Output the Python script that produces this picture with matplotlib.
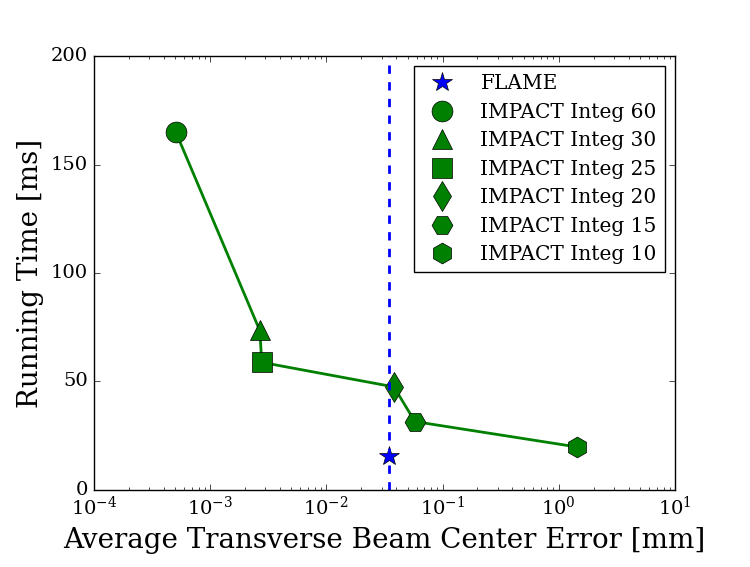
import numpy as np
import matplotlib
matplotlib.use('Agg')
import matplotlib.pyplot as plt

plt.style.use('classic')
plt.rcParams['font.family'] = 'serif'
plt.rcParams['font.serif'] = ['DejaVu Serif']

flame_err = 0.0346
flame_time = 15.7

labels = ['IMPACT Integ 60', 'IMPACT Integ 30', 'IMPACT Integ 25',
          'IMPACT Integ 20', 'IMPACT Integ 15', 'IMPACT Integ 10']
markers = ['o', '^', 's', 'd', 'H', 'h']
impact_err = [5.08e-4, 2.68e-3, 2.79e-3, 0.0382, 0.0579, 1.434]
impact_time = [165, 73.5, 58.8, 47.5, 31.5, 19.8]

fig = plt.figure(figsize=(7.5, 5.67), dpi=100)
ax = fig.add_axes([0.125, 0.136, 0.775, 0.765])

ax.plot(impact_err, impact_time, color='green', lw=2)
ax.plot(flame_err, flame_time, '*', color='blue', ms=15, label='FLAME')
for e, t, m, lab in zip(impact_err, impact_time, markers, labels):
    ax.plot(e, t, m, color='green', ms=15, label=lab)
ax.axvline(flame_err, color='blue', ls='--', lw=2)

ax.set_xscale('log')
ax.set_xlim(1e-4, 10)
ax.set_ylim(0, 200)
ax.set_yticks([0, 50, 100, 150, 200])
ax.tick_params(labelsize=14)
ax.set_xlabel('Average Transverse Beam Center Error [mm]', fontsize=20, labelpad=6)
ax.set_ylabel('Running Time [ms]', fontsize=20)
ax.legend(loc='upper right', numpoints=1, fontsize=14.5, handletextpad=0.9,
          labelspacing=0.47)

fig.savefig('out.png', dpi=100)
